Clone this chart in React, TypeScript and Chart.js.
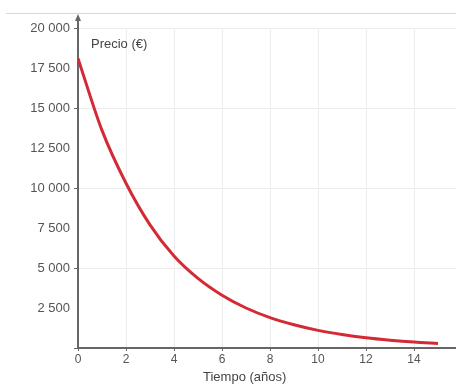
import React, { useEffect, useRef } from "react";
import { Chart, registerables } from "chart.js";

Chart.register(...registerables);

const years = [0, 1, 2, 3, 4, 5, 6, 7, 8, 9, 10, 11, 12, 13, 14, 15];
const prices = [18100, 13600, 10300, 7700, 5750, 4350, 3300, 2500, 1900, 1450, 1100, 840, 640, 490, 370, 280];
const xTitle = "Tiempo (años)";
const yTitle = "Precio (€)";

const fmt = (v: number) => {
  const s = String(Math.round(v));
  return s.replace(/\B(?=(\d{3})+(?!\d))/g, " ");
};

const FONT = "'Liberation Sans', Arial, sans-serif";

const decor = {
  id: "decor",
  afterDraw(chart: any) {
    const ctx = chart.ctx;
    const a = chart.chartArea;
    ctx.save();
    ctx.strokeStyle = "#d8d8d8";
    ctx.lineWidth = 1;
    ctx.beginPath();
    ctx.moveTo(6, 13.5);
    ctx.lineTo(456, 13.5);
    ctx.stroke();
    ctx.strokeStyle = "#666";
    ctx.fillStyle = "#666";
    ctx.lineWidth = 2;
    ctx.beginPath();
    ctx.moveTo(a.left, a.top);
    ctx.lineTo(a.left, 17);
    ctx.stroke();
    ctx.beginPath();
    ctx.moveTo(a.left, 14);
    ctx.lineTo(a.left - 3, 21);
    ctx.lineTo(a.left + 3, 21);
    ctx.closePath();
    ctx.fill();
    ctx.fillStyle = "#444";
    ctx.font = "13px " + FONT;
    ctx.textBaseline = "middle";
    ctx.textAlign = "left";
    ctx.fillText(yTitle, 91, 44);
    ctx.fillText(xTitle, 203, 377);
    ctx.restore();
  },
};

export default function App() {
  const ref = useRef<HTMLCanvasElement>(null);
  useEffect(() => {
    if (!ref.current) return;
    const chart = new Chart(ref.current, {
      type: "line",
      data: {
        datasets: [
          {
            data: years.map((x, i) => ({ x, y: prices[i] })),
            borderColor: "#d42a35",
            borderWidth: 3,
            pointRadius: 0,
            tension: 0.4,
            cubicInterpolationMode: "monotone",
            fill: false,
          },
        ],
      },
      options: {
        animation: false,
        responsive: false,
        maintainAspectRatio: false,
        layout: { padding: { top: 28, right: 0, left: 0, bottom: 0 } },
        plugins: { legend: { display: false }, tooltip: { enabled: false } },
        scales: {
          x: {
            type: "linear",
            min: 0,
            max: 15.75,
            afterFit: (s: any) => {
              s.height = 37;
            },
            border: { color: "#666", width: 2 },
            grid: {
              color: "#ececec",
              tickColor: "#666",
              tickLength: 3,
            },
            ticks: {
              stepSize: 2,
              includeBounds: false,
              padding: 1,
              color: "#555",
              font: { family: FONT, size: 12 },
              maxRotation: 0,
            },
          },
          y: {
            type: "linear",
            min: 0,
            max: 20000,
            afterFit: (s: any) => {
              s.width = 78;
            },
            border: { color: "#666", width: 2 },
            grid: {
              color: (c: any) => (c.tick && c.tick.value % 5000 === 0 ? "#ececec" : "rgba(0,0,0,0)"),
              tickColor: (c: any) => (c.tick && c.tick.value % 5000 === 0 ? "#666" : "rgba(0,0,0,0)"),
              tickLength: 4,
            },
            ticks: {
              stepSize: 2500,
              padding: 4,
              color: "#555",
              font: { family: FONT, size: 13 },
              callback: (v: any) => (v === 0 ? "" : fmt(Number(v))),
            },
          },
        },
      },
      plugins: [decor],
    } as any);
    return () => chart.destroy();
  }, []);
  return (
    <div style={{ position: "absolute", left: 0, top: 0, width: 456, height: 385, background: "#fff" }}>
      <canvas ref={ref} width={456} height={385} style={{ display: "block" }} />
    </div>
  );
}
